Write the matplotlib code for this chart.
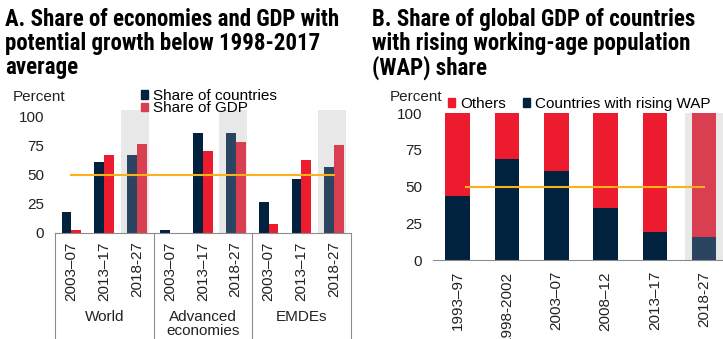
import matplotlib
matplotlib.use("Agg")
import matplotlib.pyplot as plt
from matplotlib.patches import Patch

plt.rcParams['font.family'] = ['Liberation Sans', 'DejaVu Sans']

# Panel A data
periods_a = ['2003\u201307', '2013\u201317', '2018-27']
groups_a = ['World', 'Advanced\neconomies', 'EMDEs']
share_countries = [18, 61, 67, 2.3, 86, 86, 27, 46.5, 56.6]
share_gdp = [2.6, 67.5, 77, 0.3, 70.7, 78.5, 7.8, 63, 75.6]
avg_line_a = 50

# Panel B data
periods_b = ['1993\u201397', '1998-2002', '2003\u201307', '2008\u201312', '2013\u201317', '2018-27']
rising_wap = [43.6, 69, 60.7, 35.4, 18.9, 15.9]
others = [100 - v for v in rising_wap]
avg_line_b = 50

NAVY = '#00223f'
RED = '#ec1c2e'
NAVY_F = '#2b4460'
RED_F = '#d93f50'
SHADE = '#e8e8e8'
ORANGE = '#fbb117'
AXIS = '#8c8c8c'
TXT = '#222222'
FS = 11

W, H = 723, 339
fig = plt.figure(figsize=(W / 100, H / 100), dpi=100)

def box(l, r, b, t):
    return [l / W, 1 - b / H, (r - l) / W, (b - t) / H]

# ---------- Panel A ----------
ax = fig.add_axes(box(55, 350.7, 233, 110))
n = len(share_countries)
xs = list(range(n))
ax.set_xlim(-0.5, n - 0.5)
ax.set_ylim(0, 106)
for i in xs:
    fc = i % 3 == 2
    if fc:
        ax.axvspan(i - 0.5, i + 0.35, color=SHADE, zorder=0, lw=0)
    ax.bar(i - 0.15, share_countries[i], 0.3, color=NAVY_F if fc else NAVY, zorder=2)
    ax.bar(i + 0.15, share_gdp[i], 0.3, color=RED_F if fc else RED, zorder=2)
ax.plot([0, n - 1], [avg_line_a, avg_line_a], color=ORANGE, lw=1.5, zorder=3)

ax.set_yticks([0, 25, 50, 75, 100])
ax.set_xticks(xs)
ax.set_xticklabels(periods_a * 3, rotation=90, va='top')
ax.tick_params(axis='both', length=0, labelsize=FS, colors=TXT)
ax.tick_params(axis='y', pad=8)
ax.tick_params(axis='x', pad=6)
for s in ['top', 'right', 'left']:
    ax.spines[s].set_visible(False)
ax.spines['bottom'].set_color(AXIS)

# group boxes below the axis
for k in range(4):
    ax.plot([k * 3 - 0.5, k * 3 - 0.5], [0, -1], transform=ax.get_xaxis_transform(),
            color=AXIS, lw=0.8, clip_on=False)
for k, g in enumerate(groups_a):
    ax.text(k * 3 + 1, -0.63, g, transform=ax.get_xaxis_transform(), ha='center',
            va='top', fontsize=FS, color=TXT, linespacing=0.95)

fig.text(13 / W, 1 - 97 / H, 'Percent', fontsize=FS, color=TXT, va='center')
leg_a = [Patch(color=NAVY, label='Share of countries'), Patch(color=RED_F, label='Share of GDP')]
fig.legend(handles=leg_a, loc='upper left', bbox_to_anchor=(141 / W, 1 - 89 / H),
           frameon=False, fontsize=FS, handlelength=0.45, handleheight=0.45,
           handletextpad=0.35, labelspacing=-0.1, borderpad=0, borderaxespad=0)

# ---------- Panel B ----------
bx = fig.add_axes(box(433, 723, 260, 113.3))
m = len(rising_wap)
xb = list(range(m))
bx.set_xlim(-0.5, -0.5 + (723 - 433) / 49.3)
bx.set_ylim(0, 100)
bx.axvspan(m - 1 - 0.39, m, color=SHADE, zorder=0, lw=0)
for i in xb:
    fc = i == m - 1
    bx.bar(i, rising_wap[i], 0.5, color=NAVY_F if fc else NAVY, zorder=2)
    bx.bar(i, others[i], 0.5, bottom=rising_wap[i], color=RED_F if fc else RED, zorder=2)
bx.plot([0.17, m - 1], [avg_line_b, avg_line_b], color=ORANGE, lw=1.5, zorder=3)

bx.set_yticks([0, 25, 50, 75, 100])
bx.set_xticks(xb)
bx.set_xticklabels(periods_b, rotation=90, va='top')
bx.tick_params(axis='both', length=0, labelsize=FS, colors=TXT)
bx.tick_params(axis='y', pad=8)
bx.tick_params(axis='x', pad=8)
for s in ['top', 'right', 'left']:
    bx.spines[s].set_visible(False)
bx.spines['bottom'].set_color(AXIS)

fig.text(390 / W, 1 - 97 / H, 'Percent', fontsize=FS, color=TXT, va='center')
leg_b = [Patch(color=RED, label='Others'), Patch(color=NAVY, label='Countries with rising WAP')]
fig.legend(handles=leg_b, loc='upper left', bbox_to_anchor=(448 / W, 1 - 97 / H), ncol=2,
           frameon=False, fontsize=FS, handlelength=0.45, handleheight=0.45,
           handletextpad=0.35, columnspacing=1.1, borderpad=0, borderaxespad=0)

# ---------- Titles ----------
title_font = ['Roboto Condensed', 'Liberation Sans', 'DejaVu Sans']
fig.text(5 / W, 1 - 8 / H, 'A. Share of economies and GDP with\npotential growth below 1998-2017\naverage',
         fontsize=16.5, fontweight='bold', family=title_font, va='top', ha='left', linespacing=1.05)
fig.text(372 / W, 1 - 8 / H, 'B. Share of global GDP of countries\nwith rising working-age population\n(WAP) share',
         fontsize=16.5, fontweight='bold', family=title_font, va='top', ha='left', linespacing=1.05)

fig.savefig('out.png', dpi=100)
